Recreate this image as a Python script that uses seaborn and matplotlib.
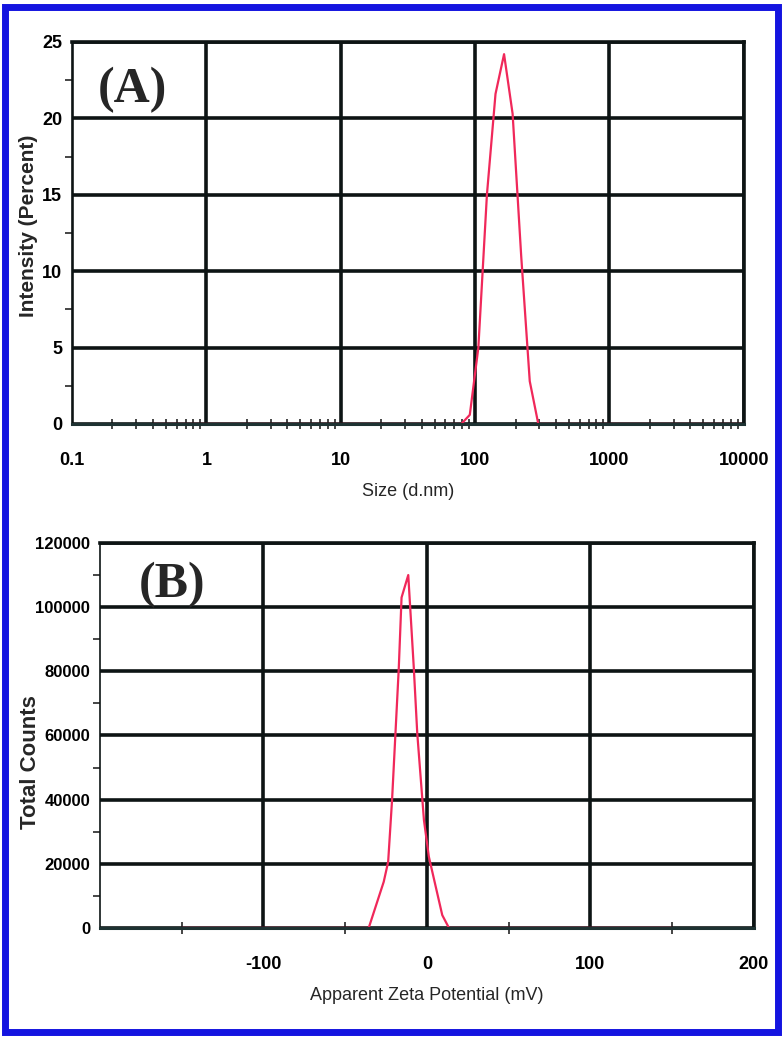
import matplotlib
matplotlib.use("Agg")
import matplotlib.pyplot as plt
import matplotlib.ticker as mticker
from matplotlib.patches import Rectangle
import seaborn as sns

# (A) size distribution by intensity
size_nm = [0.4, 68.06, 78.82, 91.28, 105.7, 122.4, 141.8, 164.2, 190.1, 220.2, 255.0, 295.3, 342.0, 10000]
intensity_pct = [0, 0, 0, 0.6, 5.0, 15.0, 21.6, 24.2, 20.3, 11.0, 2.8, 0, 0, 0]
size_ticks = [0.1, 1, 10, 100, 1000, 10000]
size_ticklabels = ["0.1", "1", "10", "100", "1000", "10000"]

# (B) zeta potential distribution
zeta_mv = [-150, -35.6, -26.4, -23.7, -21.3, -17.2, -15.5, -11.4, -8.0, -5.9, -1.8, 1.2, 9.4, 13.5, 150]
total_counts = [0, 0, 14400, 20600, 40000, 81000, 103000, 110000, 81000, 60700, 33600, 22200, 4000, 0, 0]
zeta_ticks = [-100, 0, 100, 200]

sns.set_style("white")
plt.rcParams['font.family'] = ['Liberation Sans Narrow', 'Liberation Sans', 'DejaVu Sans']
plt.rcParams['axes.unicode_minus'] = False

red = '#f0285a'
grid_c = '#0d1414'

fig = plt.figure(figsize=(7.83, 10.41), dpi=100)
axA = fig.add_axes([0.092, 0.5927, 0.858, 0.367])
axB = fig.add_axes([0.1277, 0.1086, 0.835, 0.3698])

def style_axes(ax, ysize):
    for s in ['top', 'right']:
        ax.spines[s].set_linewidth(2.6)
        ax.spines[s].set_color(grid_c)
    ax.spines['left'].set_linewidth(1.2)
    ax.spines['left'].set_color(grid_c)
    ax.spines['bottom'].set_linewidth(2.2)
    ax.spines['bottom'].set_color('#1e3232')
    ax.grid(True, which='major', color=grid_c, lw=2.6)
    ax.tick_params(axis='both', which='major', direction='out', length=6, width=1.2,
                   pad=1, labelsize=13, colors='black')
    ax.tick_params(axis='y', which='major', labelsize=ysize)
    ax.tick_params(axis='y', which='minor', direction='out', length=5, width=1.2, left=True)
    for lab in ax.get_xticklabels() + ax.get_yticklabels():
        lab.set_fontweight('bold')

# ---- panel A ----
sns.lineplot(x=size_nm, y=intensity_pct, ax=axA, color=red, lw=1.6)
axA.set_xscale('log')
axA.set_xlim(0.1, 10000)
axA.set_ylim(0, 25)
axA.set_xticks(size_ticks)
axA.set_xticklabels(size_ticklabels)
axA.xaxis.set_minor_locator(mticker.LogLocator(base=10, subs=range(2, 10)))
axA.xaxis.set_minor_formatter(mticker.NullFormatter())
axA.set_yticks([0, 5, 10, 15, 20, 25])
axA.yaxis.set_minor_locator(mticker.MultipleLocator(2.5))
style_axes(axA, 13)
axA.tick_params(axis='x', which='major', pad=14)
axA.tick_params(axis='x', which='minor', direction='inout', length=7, width=1.2, bottom=True)
axA.set_xlabel("Size (d.nm)", fontsize=13, labelpad=10)
axA.set_ylabel("Intensity (Percent)", fontsize=15, fontweight='bold',
               family=['Liberation Sans', 'DejaVu Sans'])
axA.yaxis.set_label_coords(-0.05, 0.52)
axA.text(0.09, 0.875, "(A)", transform=axA.transAxes, ha='center', va='center',
         fontsize=36, fontweight='bold', family=['Liberation Serif', 'DejaVu Serif'])

# ---- panel B ----
sns.lineplot(x=zeta_mv, y=total_counts, ax=axB, color=red, lw=1.6)
axB.set_xlim(-200, 200)
axB.set_ylim(0, 120000)
axB.set_xticks(zeta_ticks)
axB.xaxis.set_minor_locator(mticker.FixedLocator([-150, -50, 50, 150]))
axB.set_yticks(range(0, 120001, 20000))
axB.yaxis.set_minor_locator(mticker.MultipleLocator(10000))
style_axes(axB, 12)
axB.tick_params(axis='x', which='major', pad=14)
axB.tick_params(axis='x', which='minor', direction='inout', length=9, width=1.2, bottom=True)
axB.set_xlabel("Apparent Zeta Potential (mV)", fontsize=13, labelpad=10)
axB.set_ylabel("Total Counts", fontsize=16, fontweight='bold',
               family=['Liberation Sans', 'DejaVu Sans'])
axB.yaxis.set_label_coords(-0.09, 0.43)
axB.text(0.11, 0.89, "(B)", transform=axB.transAxes, ha='center', va='center',
         fontsize=36, fontweight='bold', family=['Liberation Serif', 'DejaVu Serif'])

# blue frame round the whole figure
fig.patches.append(Rectangle((0.007, 0.009), 0.986, 0.984, transform=fig.transFigure,
                             fill=False, edgecolor='#1414e0', lw=5))

fig.savefig("out.png", dpi=100)
